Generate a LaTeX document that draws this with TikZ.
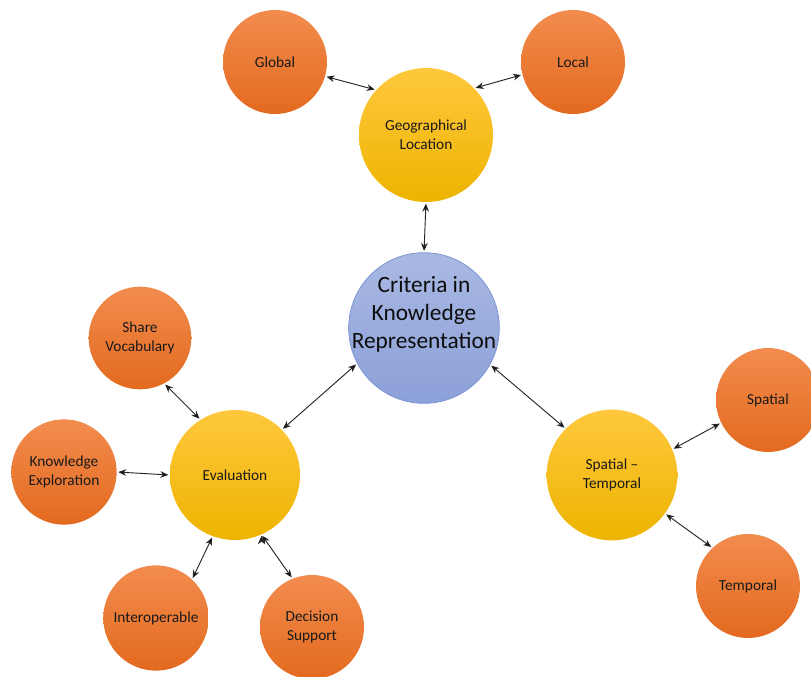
\documentclass[tikz,border=0pt]{standalone}
\usepackage{fontspec}
\setmainfont{Carlito}
\usepackage{xcolor}
\usetikzlibrary{shapes.geometric,arrows.meta}

\definecolor{orgtop}{HTML}{F28C4E}
\definecolor{orgbot}{HTML}{E36A1F}
\definecolor{yeltop}{HTML}{FFC83D}
\definecolor{yelbot}{HTML}{EDB400}
\definecolor{blutop}{HTML}{AAB9E3}
\definecolor{blubot}{HTML}{8BA0D8}
\definecolor{bluedge}{HTML}{7D96D2}

\tikzset{
  leaf/.style={circle, minimum size=78pt, inner sep=-6pt, align=center,
    top color=orgtop, bottom color=orgbot, text=black!90,
    font=\fontsize{11.5}{14.5}\selectfont},
  branch/.style={circle, inner sep=-6pt, align=center,
    top color=yeltop, bottom color=yelbot, text=black!90,
    font=\fontsize{11.5}{14.5}\selectfont},
  hub/.style={circle, minimum size=113pt, inner sep=-25pt, align=center,
    top color=blutop, bottom color=blubot, draw=bluedge, line width=0.6pt,
    text=black!95, font=\fontsize{17.5}{21}\selectfont},
  link/.style={{Stealth[length=6pt,width=5pt]}-{Stealth[length=6pt,width=5pt]},
    draw=black!85, line width=0.7pt, shorten <=1pt, shorten >=1pt}
}

\begin{document}
\begin{tikzpicture}[x=0.75pt,y=-0.75pt]
  \useasboundingbox (0,0) rectangle (811,677);

  % centre and the three branches
  \node[hub] (crit) at (424,328) {Criteria in\\Knowledge\\Representation\\[3pt]\mbox{}};
  \node[branch, minimum size=100.5pt] (geo) at (426,135) {Geographical\\Location};
  \node[branch, minimum size=97.5pt] (eval) at (235,475) {Evaluation};
  \node[branch, minimum size=98pt] (spt) at (612,475) {Spatial --\\Temporal};

  % leaves
  \node[leaf] (glob) at (275,62) {Global};
  \node[leaf] (loc) at (573,62) {Local};
  \node[leaf] (spat) at (768,400) {Spatial};
  \node[leaf] (temp) at (748,586) {Temporal};
  \node[leaf, minimum size=77pt] (share) at (140,338) {Share\\Vocabulary};
  \node[leaf, minimum size=79pt] (kexp) at (64,472) {Knowledge\\Exploration};
  \node[leaf, minimum size=79pt] (interop) at (156,618) {Interoperable};
  \node[leaf] (dec) at (312,627) {Decision\\Support};

  \path[link]
    (glob.-16) edge (geo.138)
    (loc.194) edge (geo.44)
    (geo.270) edge (crit.90)
    (crit.208) edge (eval.44)
    (crit.331) edge (spt.135)
    (spt.23) edge (spat.206)
    (spt.-36) edge (temp.133)
    (eval.122) edge (share.-62)
    (eval.180) edge (kexp.0)
    (eval.250) edge (interop.47)
    (eval.294) edge (dec.112)
    ;
\end{tikzpicture}
\end{document}
